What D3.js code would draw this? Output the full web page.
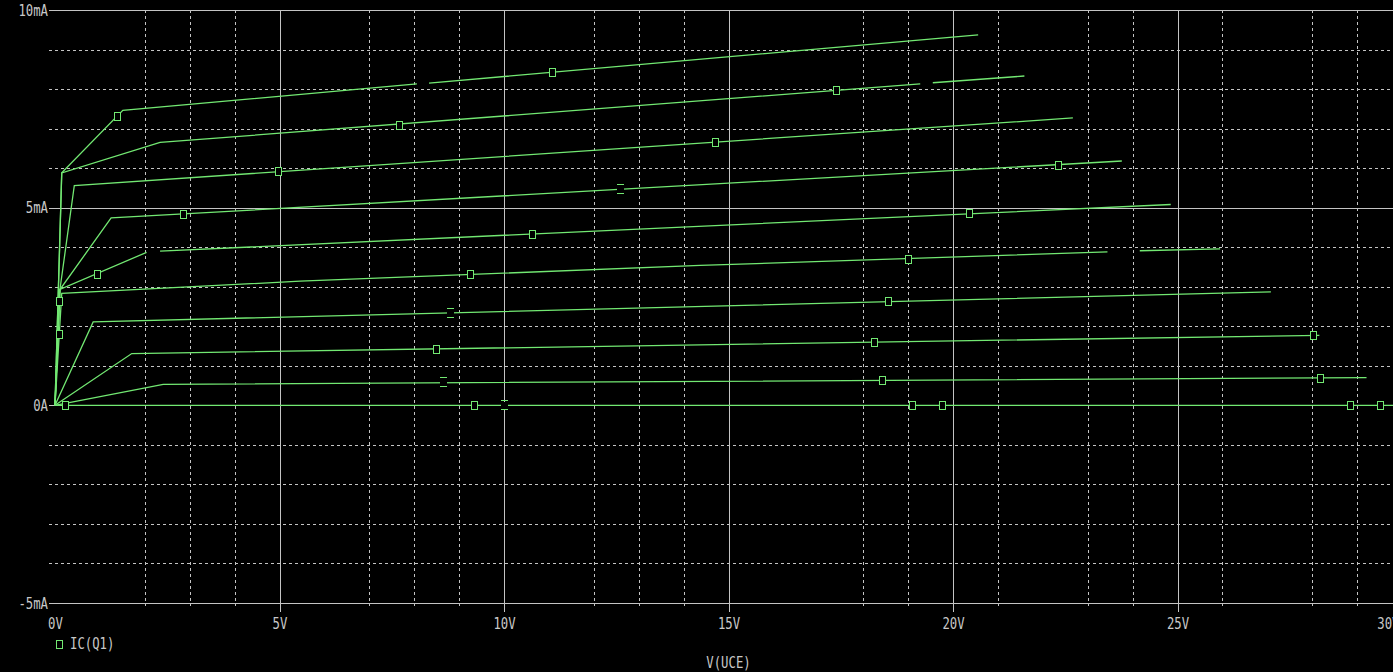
<!DOCTYPE html>
<html><head><meta charset="utf-8">
<script src="https://cdn.jsdelivr.net/npm/d3@7"></script>
<style>html,body{margin:0;padding:0;background:#000;overflow:hidden}</style>
</head><body>
<script>
// ---- data ----
const xTickValues = [0, 5, 10, 15, 20, 25, 30];
const xTickLabels = ["0V", "5V", "10V", "15V", "20V", "25V", "30V"];
const yTickValues = [-5, 0, 5, 10];
const yTickLabels = ["-5mA", "0A", "5mA", "10mA"];
const xMinorGrid = [2, 3, 4, 7, 8, 9, 12, 13, 14, 18, 19, 21, 23, 24, 26, 28, 29];
const yMinorGrid = [-4, -3, -2, -1, 1, 2, 3, 4, 6, 7, 8, 9];
const xTitle = "V(UCE)";
const seriesName = "IC(Q1)";

// IC (mA) vs VCE (V); null = gap in the trace
const curve1 = [[0,0],[0.15,5.88],[1.51,7.46],[8.06,8.13],null,[8.33,8.15],[20.56,9.37]];
const curve2 = [[0,0],[0.15,5.88],[2.34,6.65],[19.27,8.13],null,[19.55,8.16],[21.59,8.33]];
const curve3 = [[0,0],[0.11,2.93],[0.43,5.56],[22.67,7.27]];
const curve4 = [[0,0],[0.11,2.93],[1.25,4.74],[23.76,6.18]];
const curve5 = [[0,0],[0.11,2.93],[2.04,3.87],null,[2.34,3.90],[24.85,5.08]];
const curve6 = [[0,0],[0.15,2.83],[5.46,3.14],[14.37,3.54],[23.44,3.88],null,[24.16,3.91],[25.95,3.96]];
const curve7 = [[0,0],[0.85,2.11],[27.08,2.87]];
const curve8 = [[0,0],[1.71,1.31],[28.16,1.77]];
const curve9 = [[0,0],[2.41,0.53],[29.21,0.70]];
const curve10 = [[0,0],[30,0]];
const curves = [curve1, curve2, curve3, curve4, curve5, curve6, curve7, curve8, curve9, curve10];

// trace markers: [VCE, IC, symbol]
const markers = [
  [1.38,7.32,"box"],[11.07,8.43,"box"],
  [7.66,7.10,"box"],[17.39,7.98,"box"],
  [4.97,5.93,"box"],[14.70,6.67,"box"],
  [2.84,4.84,"box"],[12.58,5.48,"dash"],[22.34,6.08,"box"],
  [0.93,3.31,"box"],[10.62,4.34,"box"],[20.36,4.87,"box"],
  [9.25,3.33,"box"],[19.0,3.71,"box"],
  [0.09,2.63,"box"],[0.10,1.81,"box"],
  [8.80,2.34,"dash"],[18.55,2.63,"box"],
  [8.49,1.43,"box"],[18.24,1.59,"box"],[28.01,1.77,"box"],
  [8.64,0.58,"dash"],[18.42,0.63,"box"],[28.17,0.70,"box"],
  [0.22,0,"box"],[9.33,0,"box"],[10.0,0,"dash"],[19.09,0,"box"],[19.76,0,"box"],[28.84,0,"box"],[29.51,0,"box"]
];

// ---- drawing ----
const W = 1393, H = 672;
const GRID = "#c4c4c4", TEXT = "#c8c8c8", TRACE = "#72e872";
const FONT = "'DejaVu Sans Mono', monospace";
const x = d3.scaleLinear().domain([0, 30]).range([55, 1402]);
const y = d3.scaleLinear().domain([-5, 10]).range([603, 10]);
const plotLeft = 49, plotTop = y(10), plotBottom = y(-5);
const px = v => Math.round(v) + 0.5;

const svg = d3.select("body").append("svg").attr("width", W).attr("height", H)
  .style("background", "#000").style("display", "block");

const g = svg.append("g");
// minor dashed grid
g.selectAll(".hmin").data(yMinorGrid).join("line")
  .attr("x1", plotLeft).attr("x2", W).attr("y1", d => px(y(d))).attr("y2", d => px(y(d)))
  .attr("stroke", GRID).attr("stroke-width", 1).attr("stroke-dasharray", "3,3");
g.selectAll(".vmin").data(xMinorGrid).join("line")
  .attr("x1", d => px(x(d))).attr("x2", d => px(x(d))).attr("y1", plotTop).attr("y2", plotBottom + 3)
  .attr("stroke", GRID).attr("stroke-width", 1).attr("stroke-dasharray", "3,3");
// major solid grid
g.selectAll(".hmaj").data(yTickValues).join("line")
  .attr("x1", plotLeft).attr("x2", W).attr("y1", d => px(y(d))).attr("y2", d => px(y(d)))
  .attr("stroke", GRID).attr("stroke-width", 1);
g.selectAll(".vmaj").data(xTickValues.filter(d => d > 0)).join("line")
  .attr("x1", d => px(x(d))).attr("x2", d => px(x(d))).attr("y1", plotTop).attr("y2", plotBottom + 9)
  .attr("stroke", GRID).attr("stroke-width", 1);

// traces
const line = d3.line().defined(d => d !== null).x(d => x(d[0])).y(d => y(d[1]));
svg.append("g").selectAll("path").data(curves).join("path")
  .attr("d", line).attr("fill", "none").attr("stroke", TRACE).attr("stroke-width", 1.3);

// markers
const mg = svg.append("g");
mg.selectAll("rect").data(markers.filter(m => m[2] === "box")).join("rect")
  .attr("x", d => Math.round(x(d[0])) - 3 + 0.5).attr("y", d => Math.round(y(d[1])) - 4 + 0.5)
  .attr("width", 6).attr("height", 8).attr("fill", "#000").attr("stroke", TRACE).attr("stroke-width", 1);
const dm = mg.selectAll("g.dash").data(markers.filter(m => m[2] === "dash")).join("g")
  .attr("transform", d => `translate(${Math.round(x(d[0]))},${Math.round(y(d[1]))})`);
dm.append("rect").attr("x", -3).attr("y", -3).attr("width", 7).attr("height", 7).attr("fill", "#000");
dm.append("line").attr("x1", -3).attr("x2", 4).attr("y1", -4.5).attr("y2", -4.5).attr("stroke", TRACE);
dm.append("line").attr("x1", -3).attr("x2", 4).attr("y1", 4.5).attr("y2", 4.5).attr("stroke", TRACE);

// axes (labels only)
const charW = 7.4;
const xAxis = d3.axisBottom(x).tickValues(xTickValues).tickFormat((d, i) => xTickLabels[i])
  .tickSize(0).tickPadding(15);
const xa = svg.append("g").attr("transform", `translate(0,${plotBottom})`).call(xAxis);
xa.select(".domain").remove();
xa.selectAll("text").attr("fill", TEXT).attr("font-family", FONT).attr("font-size", 16)
  .attr("textLength", (d, i) => xTickLabels[i].length * charW).attr("lengthAdjust", "spacingAndGlyphs")
  .attr("text-anchor", (d, i) => i === xTickValues.length - 1 ? "end" : "middle")
  .attr("dx", (d, i) => i === xTickValues.length - 1 ? -3 : 0);

const yAxis = d3.axisLeft(y).tickValues(yTickValues).tickFormat((d, i) => yTickLabels[i])
  .tickSize(0).tickPadding(1);
const ya = svg.append("g").attr("transform", `translate(${plotLeft},0)`).call(yAxis);
ya.select(".domain").remove();
ya.selectAll("text").attr("fill", TEXT).attr("font-family", FONT).attr("font-size", 16)
  .attr("textLength", (d, i) => yTickLabels[i].length * charW).attr("lengthAdjust", "spacingAndGlyphs");

// x title
svg.append("text").attr("x", x(15)).attr("y", 668).attr("text-anchor", "middle")
  .attr("fill", TEXT).attr("font-family", FONT).attr("font-size", 16)
  .attr("textLength", xTitle.length * charW).attr("lengthAdjust", "spacingAndGlyphs").text(xTitle);

// legend
svg.append("rect").attr("x", 56.5).attr("y", 640.5).attr("width", 6).attr("height", 8)
  .attr("fill", "none").attr("stroke", TRACE);
svg.append("text").attr("x", 70).attr("y", 649).attr("fill", TEXT).attr("font-family", FONT)
  .attr("font-size", 16).attr("textLength", seriesName.length * charW).attr("lengthAdjust", "spacingAndGlyphs")
  .text(seriesName);
</script>
</body></html>
